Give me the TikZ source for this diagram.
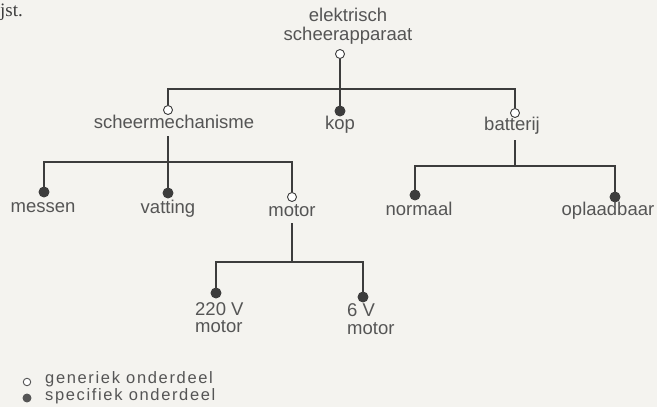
\documentclass[tikz,border=0pt]{standalone}
\usepackage{fontspec}
\setmainfont{Liberation Sans}
\newfontfamily\bookfont{Liberation Serif}
\newfontfamily\legendfont[LetterSpace=10]{Liberation Sans}
\definecolor{paper}{HTML}{F4F3EF}
\definecolor{ink}{HTML}{3C3C3C}
\definecolor{txt}{HTML}{555555}
\begin{document}
\begin{tikzpicture}[x=1pt,y=-1pt,
  lbl/.style={text=txt,font=\fontsize{18.5}{18}\selectfont,inner sep=0pt,anchor=mid},
  legtext/.style={text=txt,font=\legendfont\fontsize{16.5}{16}\selectfont,inner sep=0pt,anchor=mid west},
  generic/.style={circle,draw=ink,fill=white,line width=0.9pt,minimum size=9pt,inner sep=0pt},
  specific/.style={circle,draw=ink,fill=ink,line width=0.9pt,minimum size=10pt,inner sep=0pt},
  lgen/.style={generic,minimum size=7.5pt,draw=txt},
  lspec/.style={specific,minimum size=8pt,draw=txt,fill=txt},
  link/.style={draw=ink,line width=1.4pt}]
  % page
  \fill[paper] (0,0) rectangle (657,407);
  \useasboundingbox (0,0) rectangle (657,407);
  % fragment of the running text above
  \node[text=ink,font=\bookfont\fontsize{19}{19}\selectfont,inner sep=0pt,anchor=base west] (jst) at (0,16) {jst.};

  % root
  \node[lbl] (rootA) at (348,19) {elektrisch};
  \node[lbl] (rootB) at (348,38) {scheerapparaat};
  \node[generic] (root) at (340,54) {};

  % first level
  \node[generic]  (sm)  at (168,110) {};
  \node[specific] (kop) at (340,111) {};
  \node[generic]  (bat) at (515,113) {};
  \node[lbl] (smL)  at (174,126) {scheermechanisme};
  \node[lbl] (kopL) at (340,127) {kop};
  \node[lbl] (batL) at (512,128) {batterij};
  \coordinate (j1) at (340,89);

  % second level
  \node[specific] (mes) at (44,192) {};
  \node[specific] (vat) at (168,193) {};
  \node[generic]  (mot) at (292,197) {};
  \node[specific] (nor) at (415,195) {};
  \node[specific] (opl) at (615,197) {};
  \node[lbl] (mesL) at (43,210) {messen};
  \node[lbl] (vatL) at (168,211) {vatting};
  \node[lbl] (motL) at (292,214) {motor};
  \node[lbl] (norL) at (419,213) {normaal};
  \node[lbl] (oplL) at (608,213) {oplaadbaar};
  \coordinate (smD) at (168,136);
  \coordinate (j2)  at (168,162);
  \coordinate (batD) at (515,140);
  \coordinate (j3)  at (515,166);

  % third level
  \node[specific] (m220) at (216,293) {};
  \node[specific] (m6)   at (363,297) {};
  \node[lbl,anchor=mid west] (m220A) at (195,313) {220 V};
  \node[lbl,anchor=mid west] (m220B) at (195,330) {motor};
  \node[lbl,anchor=mid west] (m6A)   at (347,314) {6 V};
  \node[lbl,anchor=mid west] (m6B)   at (347,332) {motor};
  \coordinate (motD) at (292,223);
  \coordinate (j4)   at (292,262);

  % connectors
  \path[link] (root) -- (kop);
  \path[link] (sm.north) |- (j1) -| (bat.north);
  \path[link] (smD) -- (vat.north);
  \path[link] (mes.north) |- (j2) -| (mot.north);
  \path[link] (batD) -- (j3);
  \path[link] (nor.north) |- (j3) -| (opl.north);
  \path[link] (motD) -- (j4);
  \path[link] (m220.north) |- (j4) -| (m6.north);

  % legend
  \node[lgen]  (legG) at (27,382) {};
  \node[lspec] (legS) at (27,398) {};
  \node[legtext] (legGL) at (45,381) {generiek onderdeel};
  \node[legtext] (legSL) at (45,398) {specifiek onderdeel};
\end{tikzpicture}
\end{document}
